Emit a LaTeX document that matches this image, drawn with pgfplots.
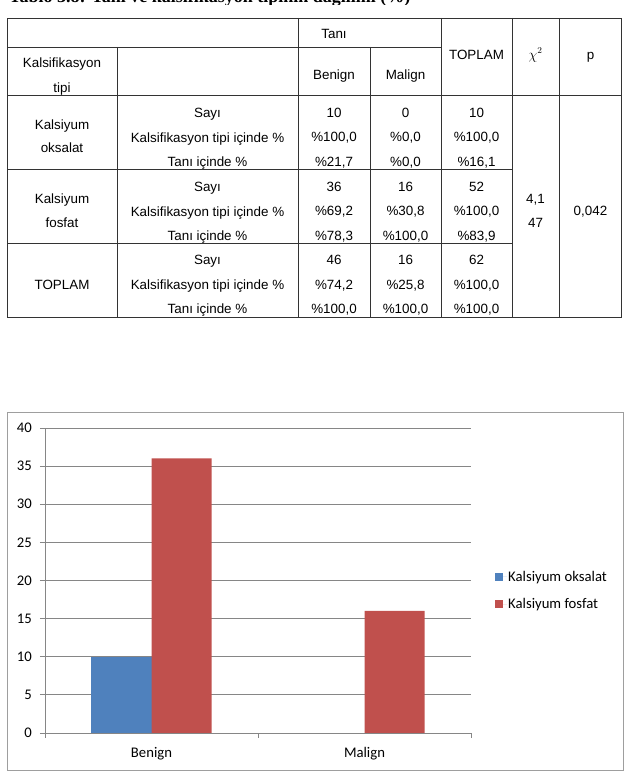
\documentclass[border=0pt]{standalone}
\usepackage{fontspec}
\setmainfont{Liberation Sans}
\newfontfamily\calibri{Carlito}
\newfontfamily\timesf{Liberation Serif}
\usepackage{pgfplots}
\pgfplotsset{compat=1.18}

\definecolor{xlblue}{HTML}{4F81BD}
\definecolor{xlred}{HTML}{C0504D}
\definecolor{xlgrid}{HTML}{868686}

% pixel-like layout: 1px = 1pt, y measured downwards inside the scope
\newcommand\tabfont{\fontsize{13.4}{16}\selectfont}
\newcommand\chfont{\calibri\fontsize{14.7}{17}\selectfont}
\newcommand\tx[3]{\node[anchor=base, inner sep=0pt, font=\tabfont] at (#1,{#2+5}) {#3};}

\begin{document}
\begin{tikzpicture}[x=1pt,y=1pt]
\useasboundingbox (0,0) rectangle (625,772);

\begin{scope}[yshift=772pt, y=-1pt]
  % cut-off caption of the page above
  \begin{scope}
    \clip (0,0) rectangle (625,5);
    \node[anchor=base west, inner sep=0pt, font=\timesf\bfseries\fontsize{18}{21}\selectfont] at (9,2.5)
      {Tablo 3.8: Tanı ve kalsifikasyon tipinin dağılımı (\%)};
  \end{scope}

  % table grid
  \begin{scope}[line width=0.9pt, black!80]
    \draw (7,18) rectangle (621,317);
    \draw (117,47) -- (117,317);
    \draw (298,18) -- (298,317);
    \draw (370,47) -- (370,317);
    \draw (441,18) -- (441,317);
    \draw (512,18) -- (512,317);
    \draw (559,18) -- (559,317);
    \draw (7,47) -- (441,47);
    \draw (7,95) -- (621,95);
    \draw (7,169) -- (512,169);
    \draw (7,243) -- (512,243);
  \end{scope}

  % header
  \tx{334}{34}{Tanı}
  \tx{62}{63}{Kalsifikasyon}
  \tx{62}{88}{tipi}
  \tx{334}{75}{Benign}
  \tx{405.5}{75}{Malign}
  \tx{476.5}{55}{TOPLAM}
  \node[inner sep=0pt, font=\tabfont] at (535.5,55) {$\chi^{2}$};
  \tx{590.5}{55}{p}

  % row labels
  \tx{62}{125}{Kalsiyum}
  \tx{62}{148}{oksalat}
  \tx{62}{199}{Kalsiyum}
  \tx{62}{223}{fosfat}
  \tx{62}{285}{TOPLAM}
  \foreach \y in {113,187,260}{
    \tx{207.5}{\y}{Sayı}
    \tx{207.5}{\y+24.5}{Kalsifikasyon tipi içinde \%}
    \tx{207.5}{\y+49}{Tanı içinde \%}
  }

  % cells
  \tx{334}{113}{10}      \tx{405.5}{113}{0}       \tx{476.5}{113}{10}
  \tx{334}{137}{\%100,0} \tx{405.5}{137}{\%0,0}   \tx{476.5}{137}{\%100,0}
  \tx{334}{162}{\%21,7}  \tx{405.5}{162}{\%0,0}   \tx{476.5}{162}{\%16,1}
  \tx{334}{187}{36}      \tx{405.5}{187}{16}      \tx{476.5}{187}{52}
  \tx{334}{211}{\%69,2}  \tx{405.5}{211}{\%30,8}  \tx{476.5}{211}{\%100,0}
  \tx{334}{236}{\%78,3}  \tx{405.5}{236}{\%100,0} \tx{476.5}{236}{\%83,9}
  \tx{334}{260}{46}      \tx{405.5}{260}{16}      \tx{476.5}{260}{62}
  \tx{334}{285}{\%74,2}  \tx{405.5}{285}{\%25,8}  \tx{476.5}{285}{\%100,0}
  \tx{334}{309}{\%100,0} \tx{405.5}{309}{\%100,0} \tx{476.5}{309}{\%100,0}
  \tx{535.5}{199}{4,1}
  \tx{535.5}{223}{47}
  \tx{590.5}{211}{0,042}

  % chart frame
  \draw[xlgrid!80, line width=0.8pt] (7,412) rectangle (623,770);
\end{scope}

\begin{axis}[
    at={(45pt,39pt)}, anchor=south west,
    scale only axis, width=426pt, height=305pt,
    xmin=-0.5, xmax=1.5, ymin=0, ymax=40,
    ybar=0pt, bar width=60pt,
    axis x line*=bottom, axis y line*=left,
    axis line style={-, xlgrid, line width=0.8pt},
    ytick={0,5,...,40},
    ymajorgrids, grid style={xlgrid, line width=0.8pt},
    xtick={-0.5,0.5,1.5}, xticklabels={},
    extra x ticks={0,1}, extra x tick labels={Benign,Malign},
    extra x tick style={major tick length=0pt, grid=none},
    tick align=outside, major tick length=5pt,
    tick style={xlgrid, line width=0.8pt},
    /pgf/number format/assume math mode=true,
    ticklabel style={font=\chfont, inner sep=0pt},
    yticklabel style={anchor=east, xshift=-8pt},
    xticklabel style={anchor=base, yshift=-24pt},
    legend style={at={(1.0563,0.467)}, anchor=west, draw=none, fill=none,
        font=\chfont, inner sep=0pt, row sep=14pt,
        nodes={inner sep=1pt}},
    legend cell align=left,
]
\addplot[fill=xlblue, draw=none,
    legend image code/.code={\fill[xlblue] (0pt,-4pt) rectangle (8pt,4pt);
        \path (0pt,0pt) -- (12pt,0pt);}]
    coordinates {(0,10)};
\addplot[fill=xlred, draw=none,
    legend image code/.code={\fill[xlred] (0pt,-4pt) rectangle (8pt,4pt);
        \path (0pt,0pt) -- (12pt,0pt);}]
    coordinates {(0,36) (1,16)};
\legend{Kalsiyum oksalat, Kalsiyum fosfat}
\end{axis}
\end{tikzpicture}
\end{document}
